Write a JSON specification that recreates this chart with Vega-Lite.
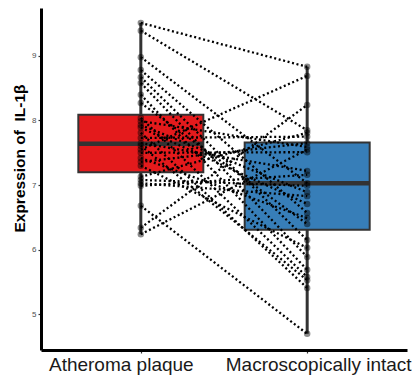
{
  "$schema": "https://vega.github.io/schema/vega-lite/v6.json",
  "autosize": "none",
  "width": 366,
  "height": 342,
  "padding": {"left": 41, "top": 8, "right": 7, "bottom": 29},
  "config": {
    "view": {"stroke": null},
    "font": "Liberation Sans"
  },
  "datasets": {
    "pts": [
      {"id": 1, "group": "Atheroma plaque", "value": 9.51}, {"id": 1, "group": "Macroscopically intact", "value": 8.83},
      {"id": 2, "group": "Atheroma plaque", "value": 9.39}, {"id": 2, "group": "Macroscopically intact", "value": 7.85},
      {"id": 3, "group": "Atheroma plaque", "value": 8.98}, {"id": 3, "group": "Macroscopically intact", "value": 7.03},
      {"id": 4, "group": "Atheroma plaque", "value": 8.78}, {"id": 4, "group": "Macroscopically intact", "value": 6.57},
      {"id": 5, "group": "Atheroma plaque", "value": 8.67}, {"id": 5, "group": "Macroscopically intact", "value": 6.15},
      {"id": 6, "group": "Atheroma plaque", "value": 8.58}, {"id": 6, "group": "Macroscopically intact", "value": 5.89},
      {"id": 7, "group": "Atheroma plaque", "value": 8.40}, {"id": 7, "group": "Macroscopically intact", "value": 5.69},
      {"id": 8, "group": "Atheroma plaque", "value": 8.27}, {"id": 8, "group": "Macroscopically intact", "value": 6.40},
      {"id": 9, "group": "Atheroma plaque", "value": 8.04}, {"id": 9, "group": "Macroscopically intact", "value": 5.58},
      {"id": 10, "group": "Atheroma plaque", "value": 7.99}, {"id": 10, "group": "Macroscopically intact", "value": 7.59},
      {"id": 11, "group": "Atheroma plaque", "value": 7.93}, {"id": 11, "group": "Macroscopically intact", "value": 6.89},
      {"id": 12, "group": "Atheroma plaque", "value": 7.89}, {"id": 12, "group": "Macroscopically intact", "value": 6.71},
      {"id": 13, "group": "Atheroma plaque", "value": 7.81}, {"id": 13, "group": "Macroscopically intact", "value": 5.41},
      {"id": 14, "group": "Atheroma plaque", "value": 7.73}, {"id": 14, "group": "Macroscopically intact", "value": 7.75},
      {"id": 15, "group": "Atheroma plaque", "value": 7.65}, {"id": 15, "group": "Macroscopically intact", "value": 7.22},
      {"id": 16, "group": "Atheroma plaque", "value": 7.61}, {"id": 16, "group": "Macroscopically intact", "value": 5.53},
      {"id": 17, "group": "Atheroma plaque", "value": 7.55}, {"id": 17, "group": "Macroscopically intact", "value": 8.69},
      {"id": 18, "group": "Atheroma plaque", "value": 7.50}, {"id": 18, "group": "Macroscopically intact", "value": 7.51},
      {"id": 19, "group": "Atheroma plaque", "value": 7.42}, {"id": 19, "group": "Macroscopically intact", "value": 6.49},
      {"id": 20, "group": "Atheroma plaque", "value": 7.36}, {"id": 20, "group": "Macroscopically intact", "value": 7.65},
      {"id": 21, "group": "Atheroma plaque", "value": 7.30}, {"id": 21, "group": "Macroscopically intact", "value": 6.03},
      {"id": 22, "group": "Atheroma plaque", "value": 7.13}, {"id": 22, "group": "Macroscopically intact", "value": 7.81},
      {"id": 23, "group": "Atheroma plaque", "value": 7.08}, {"id": 23, "group": "Macroscopically intact", "value": 6.99},
      {"id": 24, "group": "Atheroma plaque", "value": 7.03}, {"id": 24, "group": "Macroscopically intact", "value": 6.83},
      {"id": 25, "group": "Atheroma plaque", "value": 6.99}, {"id": 25, "group": "Macroscopically intact", "value": 7.16},
      {"id": 26, "group": "Atheroma plaque", "value": 6.68}, {"id": 26, "group": "Macroscopically intact", "value": 4.70},
      {"id": 27, "group": "Atheroma plaque", "value": 6.34}, {"id": 27, "group": "Macroscopically intact", "value": 8.24},
      {"id": 28, "group": "Atheroma plaque", "value": 6.24}, {"id": 28, "group": "Macroscopically intact", "value": 7.55}
    ],
    "box": [
      {"group": "Atheroma plaque", "min": 6.24, "q1": 7.20, "median": 7.64, "q3": 8.09, "max": 9.51},
      {"group": "Macroscopically intact", "min": 4.70, "q1": 6.31, "median": 7.03, "q3": 7.66, "max": 8.83}
    ]
  },
  "encoding": {
    "x": {
      "field": "group", "type": "nominal",
      "scale": {"type": "point", "padding": 0.6, "domain": ["Atheroma plaque", "Macroscopically intact"]},
      "axis": {
        "title": null, "labelAngle": 0, "labelFontSize": 19, "labelColor": "#1a1a1a", "labelLimit": 0,
        "labelPadding": 2, "domainColor": "#000", "domainWidth": 3, "tickColor": "#333",
        "tickSize": 3, "tickWidth": 1.2, "labelOverlap": false, "labelBound": false, "labelFlush": false,
        "labelOffset": {"condition": {"test": "datum.value == 'Atheroma plaque'", "value": -20}, "value": 11}
      }
    }
  },
  "layer": [
    {
      "data": {"name": "box"},
      "mark": {"type": "rule", "color": "#333", "strokeWidth": 3},
      "encoding": {
        "y": {"field": "min", "type": "quantitative"},
        "y2": {"field": "max"}
      }
    },
    {
      "data": {"name": "box"},
      "mark": {"type": "bar", "size": 125, "stroke": "#333", "strokeWidth": 2},
      "encoding": {
        "y": {"field": "q1", "type": "quantitative"},
        "y2": {"field": "q3"},
        "fill": {
          "field": "group", "type": "nominal",
          "scale": {"domain": ["Atheroma plaque", "Macroscopically intact"], "range": ["#E41A1C", "#377EB8"]},
          "legend": null
        }
      }
    },
    {
      "data": {"name": "box"},
      "mark": {"type": "tick", "size": 125, "thickness": 4.5, "color": "#333", "opacity": 1},
      "encoding": {
        "y": {"field": "median", "type": "quantitative"}
      }
    },
    {
      "data": {"name": "pts"},
      "mark": {"type": "line", "color": "#000", "strokeWidth": 2.3, "strokeDash": [2, 2.6]},
      "encoding": {
        "y": {"field": "value", "type": "quantitative"},
        "detail": {"field": "id", "type": "nominal"}
      }
    },
    {
      "data": {"name": "pts"},
      "mark": {"type": "circle", "size": 42, "color": "#000", "opacity": 0.45},
      "encoding": {
        "y": {
          "field": "value", "type": "quantitative",
          "scale": {"domain": [4.45, 9.74], "zero": false, "nice": false},
          "axis": {
            "title": "Expression of \u00a0IL-1β", "titleFontSize": 15.5, "titleFontWeight": "bold",
            "titleColor": "#000", "titleX": -22, "titleY": 150, "titleBaseline": "middle", "titleAngle": -90,
            "values": [5, 6, 7, 8, 9], "format": "d", "grid": false, "labelFontSize": 8, "labelColor": "#4d4d4d",
            "domainColor": "#000", "domainWidth": 3, "tickColor": "#333", "tickSize": 3, "tickWidth": 1.2,
            "labelPadding": 2
          }
        }
      }
    }
  ]
}
